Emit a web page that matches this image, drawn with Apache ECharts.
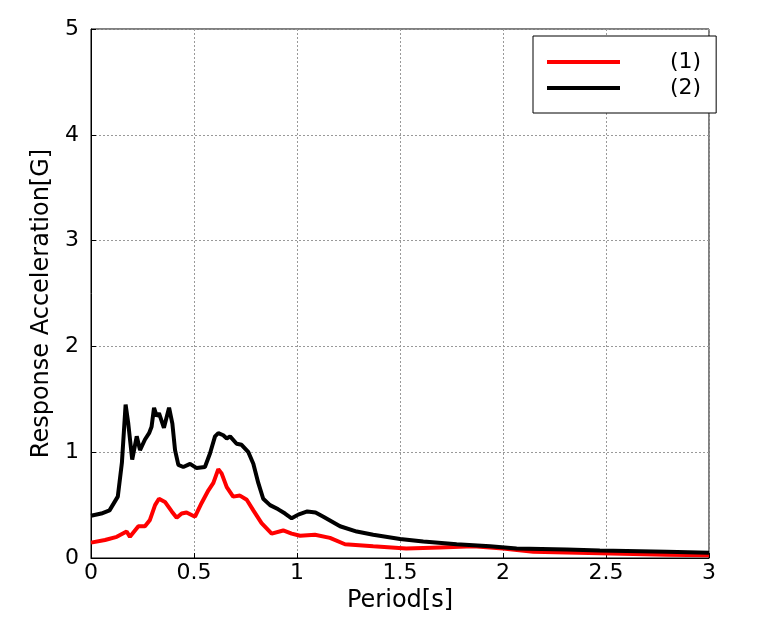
<!DOCTYPE html>
<html>
<head>
<meta charset="utf-8">
<script src="https://cdn.jsdelivr.net/npm/echarts@6/dist/echarts.min.js"></script>
<style>html,body{margin:0;padding:0;background:#fff}#c{width:781px;height:620px}</style>
</head>
<body>
<div id="c"></div>
<script>
const seriesNames = ['(1)', '(2)'];
const xTicks = { min: 0, max: 3, interval: 0.5 };
const yTicks = { min: 0, max: 5, interval: 1 };

const period1 = [0.0,0.068,0.125,0.173,0.189,0.23,0.262,0.286,0.311,0.330,0.359,0.392,0.416,0.44,0.464,0.505,0.537,0.57,0.594,0.618,0.634,0.659,0.69,0.723,0.756,0.788,0.828,0.877,0.933,0.974,1.015,1.087,1.16,1.233,1.37,1.53,1.694,1.856,2.0,2.147,2.47,2.795,3.0];
const accel1 = [0.145,0.17,0.20,0.25,0.20,0.30,0.30,0.36,0.50,0.56,0.53,0.44,0.38,0.42,0.43,0.39,0.52,0.64,0.71,0.84,0.80,0.67,0.58,0.59,0.55,0.45,0.33,0.23,0.26,0.23,0.21,0.22,0.19,0.13,0.11,0.09,0.10,0.11,0.09,0.06,0.045,0.03,0.025];

const period2 = [0.00,0.05,0.09,0.13,0.15,0.168,0.181,0.20,0.222,0.238,0.262,0.282,0.294,0.306,0.319,0.330,0.354,0.379,0.395,0.408,0.424,0.448,0.481,0.513,0.553,0.578,0.602,0.618,0.642,0.659,0.675,0.707,0.731,0.764,0.788,0.812,0.836,0.869,0.909,0.942,0.974,1.006,1.05,1.09,1.128,1.209,1.29,1.37,1.5,1.613,1.775,1.937,2.066,2.31,2.47,2.795,3.0];
const accel2 = [0.40,0.42,0.45,0.58,0.90,1.45,1.27,0.93,1.15,1.02,1.12,1.18,1.24,1.42,1.34,1.37,1.23,1.42,1.27,1.02,0.88,0.86,0.89,0.85,0.86,0.99,1.15,1.18,1.16,1.13,1.15,1.08,1.07,1.00,0.89,0.71,0.56,0.50,0.46,0.42,0.375,0.41,0.44,0.43,0.39,0.30,0.25,0.22,0.18,0.155,0.13,0.11,0.09,0.08,0.07,0.06,0.05];

const FONT = 'DejaVu Sans';
const pairs = (xs, ys) => xs.map((x, i) => [x, ys[i]]);

const chart = echarts.init(document.getElementById('c'), null, { renderer: 'canvas' });
const axisCommon = {
  axisLine: { show: true, lineStyle: { color: '#000', width: 1 } },
  axisTick: { show: true, inside: true, length: 5, lineStyle: { color: '#000' } },
  splitLine: { show: true, lineStyle: { color: '#999', type: [2, 2], width: 1 } },
  axisLabel: { color: '#000', fontSize: 22, fontFamily: FONT }
};
chart.setOption({
  animation: false,
  backgroundColor: '#fff',
  grid: { left: 91, right: 72, top: 29, bottom: 62, show: true, borderColor: '#000', borderWidth: 1, backgroundColor: 'transparent' },
  xAxis: Object.assign({}, axisCommon, {
    type: 'value', min: xTicks.min, max: xTicks.max, interval: xTicks.interval,
    name: 'Period[s]', nameLocation: 'middle', nameGap: 18,
    nameTextStyle: { color: '#000', fontSize: 24, fontFamily: FONT },
    axisLabel: Object.assign({}, axisCommon.axisLabel, { margin: 4 })
  }),
  yAxis: Object.assign({}, axisCommon, {
    type: 'value', min: yTicks.min, max: yTicks.max, interval: yTicks.interval,
    name: 'Response Acceleration[G]', nameLocation: 'middle', nameGap: 33,
    nameTextStyle: { color: '#000', fontSize: 24, fontFamily: FONT, padding: [0, 20, 0, 0] },
    axisLabel: Object.assign({}, axisCommon.axisLabel, { margin: 12 })
  }),
  legend: {
    orient: 'vertical', left: 533, top: 36,
    padding: [13, 15, 12, 14],
    backgroundColor: '#fff', borderColor: '#000', borderWidth: 1,
    itemWidth: 73, itemHeight: 4, itemGap: 0, icon: 'rect',
    textStyle: { color: '#000', fontSize: 22, fontFamily: FONT, padding: [0, 0, 0, 45], lineHeight: 26 },
    data: seriesNames
  },
  series: [
    { name: seriesNames[0], type: 'line', data: pairs(period1, accel1), showSymbol: false, smooth: false,
      lineStyle: { color: '#ff0000', width: 4 }, itemStyle: { color: '#ff0000' } },
    { name: seriesNames[1], type: 'line', data: pairs(period2, accel2), showSymbol: false, smooth: false,
      lineStyle: { color: '#000000', width: 4 }, itemStyle: { color: '#000000' } }
  ]
});
</script>
</body>
</html>
